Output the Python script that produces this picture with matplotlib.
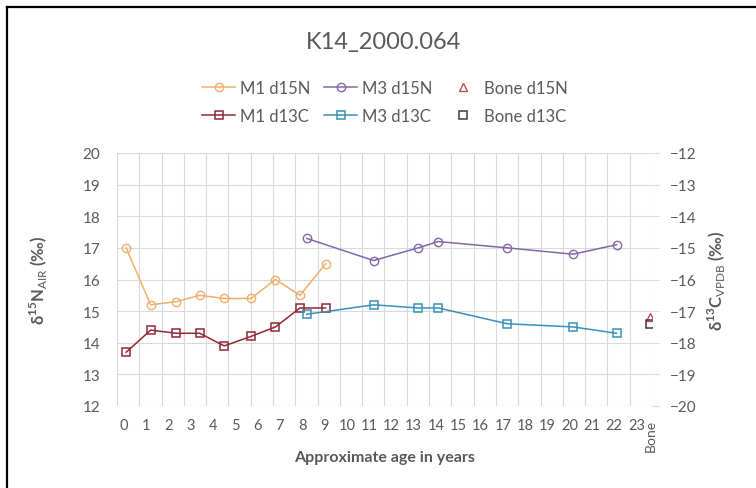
import matplotlib
matplotlib.use("Agg")
import matplotlib.pyplot as plt
from matplotlib.lines import Line2D
import numpy as np

plt.rcParams['font.family'] = ['Lato', 'DejaVu Sans']
plt.rcParams['mathtext.fontset'] = 'custom'
plt.rcParams['mathtext.rm'] = 'Lato'
plt.rcParams['mathtext.bf'] = 'Lato:bold'

# x positions (approximate age in years)
m1_age = [0.1, 1.2, 2.35, 3.4, 4.5, 5.7, 6.8, 7.9, 9.05]
m3_age = [8.2, 11.2, 13.2, 14.1, 17.2, 20.15, 22.1]
bone_age = [23.6]

m1_d15n = [17.0, 15.2, 15.3, 15.5, 15.4, 15.4, 16.0, 15.5, 16.5]
m1_d13c = [-18.3, -17.6, -17.7, -17.7, -18.1, -17.8, -17.5, -16.9, -16.9]
m3_d15n = [17.3, 16.6, 17.0, 17.2, 17.0, 16.8, 17.1]
m3_d13c = [-17.1, -16.8, -16.9, -16.9, -17.4, -17.5, -17.7]
bone_d15n = [14.8]
bone_d13c = [-17.4]

xtick_labels = [str(i) for i in range(24)] + ["Bone"]
xtick_pos = list(range(24)) + [23.62]

grey = "#595959"
grid_c = "#D9D9D9"

fig = plt.figure(figsize=(7.56, 4.89), dpi=100)
ax = fig.add_axes([117/756, 1-407/489, 535/756, 253/489])
ax2 = ax.twinx()

ms = 6
l1, = ax.plot(m1_age, m1_d15n, color="#F2AE6B", marker="o", ms=ms, mfc="none", mew=1, lw=1.1, label="M1 d15N")
l2, = ax.plot(m3_age, m3_d15n, color="#8566A8", marker="o", ms=ms, mfc="none", mew=1, lw=1.1, label="M3 d15N")
l3, = ax.plot(bone_age, bone_d15n, color="#C0504D", marker="^", ms=ms, mfc="none", mew=1, ls="none", label="Bone d15N")
l4, = ax2.plot(m1_age, m1_d13c, color="#8E2A35", marker="s", ms=ms, mfc="none", mew=1.1, lw=1.1, label="M1 d13C")
l5, = ax2.plot(m3_age, m3_d13c, color="#3A8FB8", marker="s", ms=ms, mfc="none", mew=1.1, lw=1.1, label="M3 d13C")
l6, = ax2.plot(bone_age, bone_d13c, color="#3A3A3A", marker="s", ms=ms, mfc="none", mew=1.1, ls="none", label="Bone d13C")

xmin = -0.31
ax.set_xlim(xmin, xmin + 24)
ax.set_ylim(12, 20)
ax2.set_ylim(-20, -12)

ax.set_xticks(np.arange(25) + xmin, minor=True)
ax.set_xticks(xtick_pos)
ax.set_xticklabels(xtick_labels)
bone_lbl = ax.get_xticklabels()[-1]
bone_lbl.set_rotation(90)
bone_lbl.set_va("top")
ax.set_yticks(np.arange(12, 21))
ax2.set_yticks(np.arange(-20, -11))

ax.grid(True, which="minor", axis="x", color=grid_c, lw=0.8)
ax.grid(True, which="major", axis="y", color=grid_c, lw=0.8)
ax.set_axisbelow(True)
for a in (ax, ax2):
    for s in a.spines.values():
        s.set_visible(False)

ax.tick_params(axis="x", which="both", length=0, pad=9, labelsize=10.5, labelcolor=grey)
bone_lbl.set_fontsize(10)
ax.tick_params(axis="y", length=0, pad=12, labelsize=11, labelcolor=grey)
ax2.tick_params(axis="y", length=5, width=0.8, color=grid_c, pad=8, labelsize=11, labelcolor=grey)

ax.set_xlabel("Approximate age in years", fontsize=11.5, fontweight="bold", color=grey)
ax.xaxis.set_label_coords(0.5, -0.175)
ax.set_ylabel("δ$^{\\mathbf{15}}$N$_{\\mathrm{AIR}}$ (‰)", fontsize=12, fontweight="bold", color=grey)
ax.yaxis.set_label_coords(-0.125, 0.5)
ax2.set_ylabel("δ$^{\\mathbf{13}}$C$_{\\mathrm{VPDB}}$ (‰)", fontsize=12, fontweight="bold", color=grey, rotation=90)
ax2.yaxis.set_label_coords(1.10, 0.5)

fig.text(384/756, 1-43/489, "K14_2000.064", ha="center", va="center", fontsize=17, color=grey)

fig.legend(handles=[l1, l4, l2, l5, l3, l6], ncol=3, loc="center",
           bbox_to_anchor=(385/756, 1-103/489), frameon=False, fontsize=12,
           labelcolor=grey, handlelength=2.0, handletextpad=0.3,
           columnspacing=0.8, labelspacing=0.75)

# outer frame (cropped on right and bottom)
fig.add_artist(Line2D([7/756, 7/756], [0, 1-8/489], color="black", lw=1.6, transform=fig.transFigure))
fig.add_artist(Line2D([7/756, 1], [1-8/489, 1-8/489], color="black", lw=1.6, transform=fig.transFigure))

fig.savefig("out.png", dpi=100)
